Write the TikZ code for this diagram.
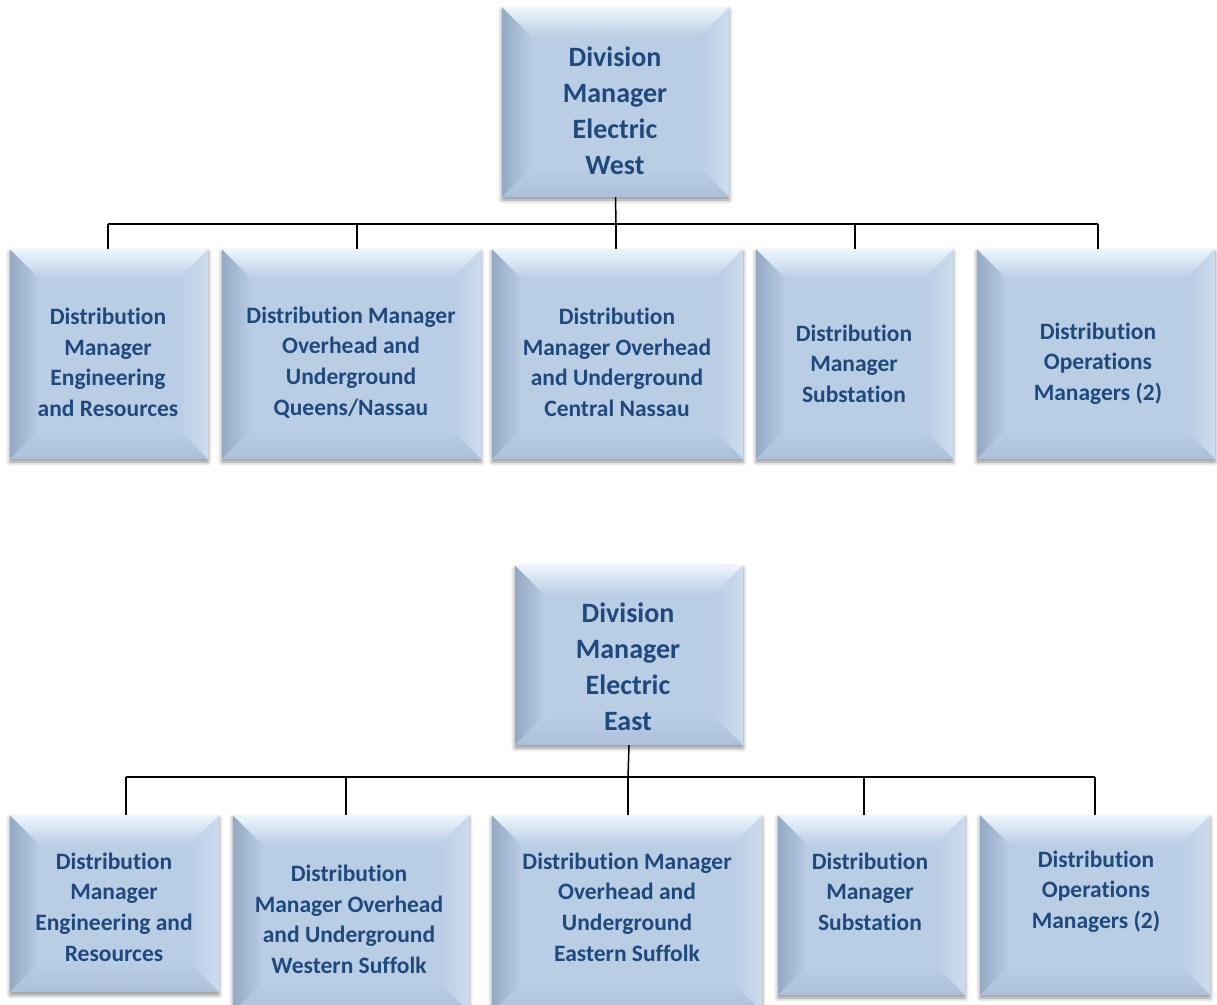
\documentclass[tikz,border=0pt]{standalone}
\usepackage{fontspec}
\newfontfamily\boxfont{Carlito}[Ligatures={NoCommon}]
\usetikzlibrary{shadows.blur}

\definecolor{bodyblue}{RGB}{185,205,229}
\definecolor{bevtop}{RGB}{238,246,253}
\definecolor{bevleft}{RGB}{148,169,196}
\definecolor{bevright}{RGB}{205,220,238}
\definecolor{bevbottom}{RGB}{172,192,218}
\definecolor{textblue}{RGB}{31,73,125}

% four bevel bands drawn inside each box
\newcommand\boxbevel{%
  \def\bw{30}%
  \coordinate (pbnw) at (path picture bounding box.north west);
  \coordinate (pbne) at (path picture bounding box.north east);
  \coordinate (pbsw) at (path picture bounding box.south west);
  \coordinate (pbse) at (path picture bounding box.south east);
  \shade[left color=bevleft, right color=bodyblue]
    (pbnw) -- ([shift={(\bw,\bw)}]pbnw) -- ([shift={(\bw,-\bw)}]pbsw) -- (pbsw) -- cycle;
  \shade[left color=bodyblue, right color=bevright]
    (pbne) -- ([shift={(-\bw,\bw)}]pbne) -- ([shift={(-\bw,-\bw)}]pbse) -- (pbse) -- cycle;
  \shade[top color=bodyblue, bottom color=bevbottom]
    (pbsw) -- ([shift={(\bw,-\bw)}]pbsw) -- ([shift={(-\bw,-\bw)}]pbse) -- (pbse) -- cycle;
  \shade[top color=bevtop, bottom color=bodyblue]
    (pbnw) -- ([shift={(\bw,\bw)}]pbnw) -- ([shift={(-\bw,\bw)}]pbne) -- (pbne) -- cycle;
}

\tikzset{
  bevelbox/.style={rectangle, inner sep=0pt, fill=bodyblue,
    blur shadow={shadow xshift=0pt, shadow yshift=-3pt,
      shadow blur radius=4pt, shadow opacity=45},
    path picture={\boxbevel}},
  boxtext/.style={font=\boxfont\bfseries\fontsize{23.5}{30.6}\selectfont,
    text=textblue, align=center, inner sep=0pt},
  headtext/.style={boxtext, font=\boxfont\bfseries\fontsize{28}{36}\selectfont},
  conn/.style={line width=1.5pt, black},
}

\begin{document}
\begin{tikzpicture}[x=1pt, y=-1pt]
\useasboundingbox (0,0) rectangle (1217,1004);

% ---------------- West division ----------------
\node[bevelbox, minimum width=227, minimum height=190] (w0) at (615.5,102) {};
\node[bevelbox, minimum width=198, minimum height=210] (w1) at (109,354) {};
\node[bevelbox, minimum width=259, minimum height=210] (w2) at (351.5,354) {};
\node[bevelbox, minimum width=251, minimum height=210] (w3) at (617.5,354) {};
\node[bevelbox, minimum width=197, minimum height=210] (w4) at (854.5,354) {};
\node[bevelbox, minimum width=238, minimum height=210] (w5) at (1096,354) {};

\node[headtext] (w0t) at (615,111) {Division\\Manager\\Electric\\West};
\node[boxtext] (w1t) at (108,362.5) {Distribution\\Manager\\Engineering\\and Resources};
\node[boxtext] (w2t) at (351,362.5) {Distribution Manager\\Overhead and\\Underground\\Queens/Nassau};
\node[boxtext] (w3t) at (617,362.5) {Distribution\\Manager Overhead\\and Underground\\Central Nassau};
\node[boxtext] (w4t) at (854,363.5) {Distribution\\Manager\\Substation};
\node[boxtext] (w5t) at (1098,363.5) {Distribution\\Operations\\Managers (2)};

\coordinate (wbus) at (616,224);
\draw[conn] (w0.south) -- (wbus);
\draw[conn] ([xshift=-1pt]w1.north |- wbus) -- ([xshift=2pt]w5.north |- wbus);
\draw[conn] ([xshift=-1pt]w1.north) -- ([xshift=-1pt]w1.north |- wbus);
\draw[conn] ([xshift=5.5pt]w2.north) -- ([xshift=5.5pt]w2.north |- wbus);
\draw[conn] ([xshift=-1.5pt]w3.north) -- ([xshift=-1.5pt]w3.north |- wbus);
\draw[conn] ([xshift=0.5pt]w4.north) -- ([xshift=0.5pt]w4.north |- wbus);
\draw[conn] ([xshift=2pt]w5.north) -- ([xshift=2pt]w5.north |- wbus);

% ---------------- East division ----------------
\node[bevelbox, minimum width=228, minimum height=180] (e0) at (629,655) {};
\node[bevelbox, minimum width=209, minimum height=177] (e1) at (114.5,903.5) {};
\node[bevelbox, minimum width=236, minimum height=197] (e2) at (351,913.5) {};
\node[bevelbox, minimum width=270, minimum height=197] (e3) at (627,913.5) {};
\node[bevelbox, minimum width=187, minimum height=180] (e4) at (871.5,905) {};
\node[bevelbox, minimum width=230, minimum height=180] (e5) at (1095,905) {};

\node[headtext] (e0t) at (628,667) {Division\\Manager\\Electric\\East};
\node[boxtext] (e1t) at (114,907) {Distribution\\Manager\\Engineering and\\Resources};
\node[boxtext] (e2t) at (349,919.5) {Distribution\\Manager Overhead\\and Underground\\Western Suffolk};
\node[boxtext] (e3t) at (627,907) {Distribution Manager\\Overhead and\\Underground\\Eastern Suffolk};
\node[boxtext] (e4t) at (870,891.5) {Distribution\\Manager\\Substation};
\node[boxtext] (e5t) at (1096,891.5) {Distribution\\Operations\\Managers (2)};

\coordinate (ebus) at (628,777);
\draw[conn] (e0.south) -- (ebus);
\draw[conn] ([xshift=11.5pt]e1.north |- ebus) -- (e5.north |- ebus);
\draw[conn] ([xshift=11.5pt]e1.north) -- ([xshift=11.5pt]e1.north |- ebus);
\draw[conn] ([xshift=-5pt]e2.north) -- ([xshift=-5pt]e2.north |- ebus);
\draw[conn] ([xshift=1pt]e3.north) -- ([xshift=1pt]e3.north |- ebus);
\draw[conn] ([xshift=-7.5pt]e4.north) -- ([xshift=-7.5pt]e4.north |- ebus);
\draw[conn] (e5.north) -- (e5.north |- ebus);
\end{tikzpicture}
\end{document}
